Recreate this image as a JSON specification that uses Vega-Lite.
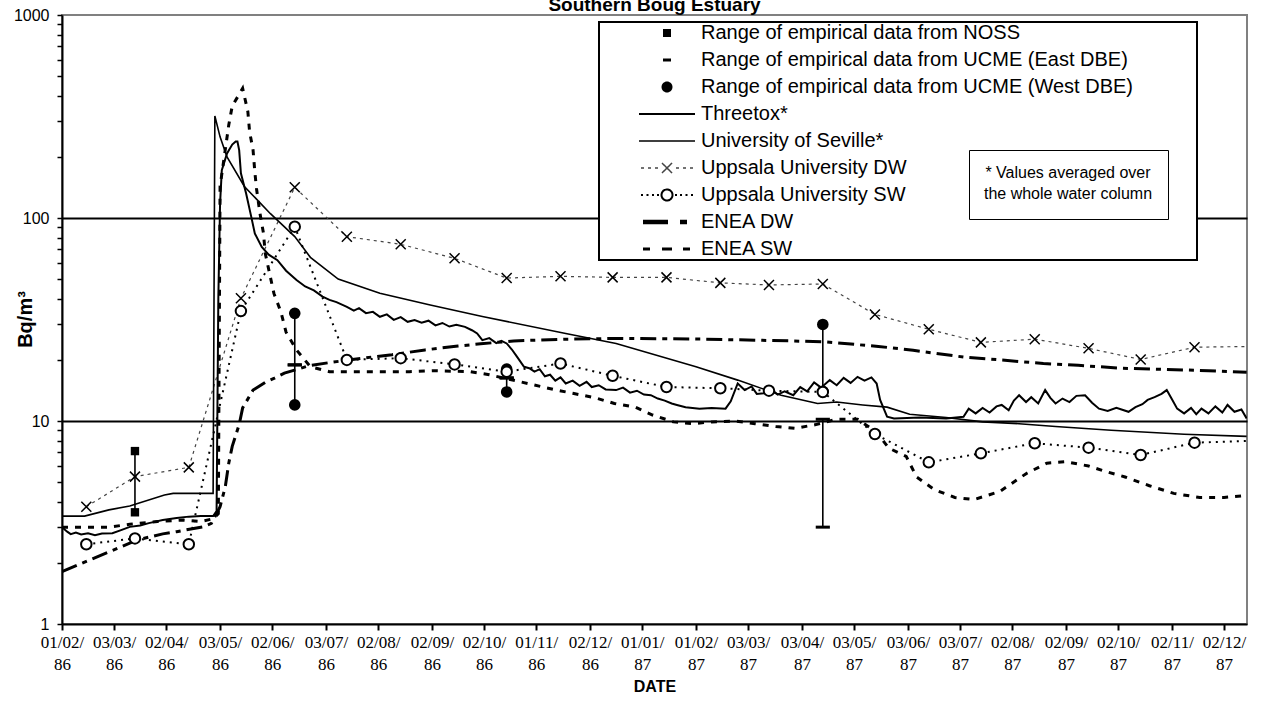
{
  "$schema": "https://vega.github.io/schema/vega-lite/v6.json",
  "width": 1185,
  "height": 609,
  "autosize": {"type": "none"},
  "padding": {"left": 62, "top": 15, "right": 16, "bottom": 87},
  "background": "white",
  "title": {"text": "Southern Boug Estuary", "font": "Liberation Sans", "fontSize": 19, "fontWeight": "bold", "color": "black", "anchor": "middle", "frame": "group", "offset": -23, "baseline": "alphabetic"},
  "config": {"view": {"stroke": "#808080", "strokeWidth": 2}, "font": "Liberation Sans"},
  "datasets": {
    "lines": [
      {"series": "ENEA SW", "date": "1986-02-01", "value": 3.0},
      {"series": "ENEA SW", "date": "1986-02-28", "value": 3.0},
      {"series": "ENEA SW", "date": "1986-03-12", "value": 3.1},
      {"series": "ENEA SW", "date": "1986-03-28", "value": 3.2},
      {"series": "ENEA SW", "date": "1986-04-12", "value": 3.25},
      {"series": "ENEA SW", "date": "1986-04-22", "value": 3.2},
      {"series": "ENEA SW", "date": "1986-04-29", "value": 3.3},
      {"series": "ENEA SW", "date": "1986-05-02", "value": 3.5},
      {"series": "ENEA SW", "date": "1986-05-03", "value": 143},
      {"series": "ENEA SW", "date": "1986-05-08", "value": 287},
      {"series": "ENEA SW", "date": "1986-05-10", "value": 356},
      {"series": "ENEA SW", "date": "1986-05-16", "value": 435},
      {"series": "ENEA SW", "date": "1986-05-19", "value": 334},
      {"series": "ENEA SW", "date": "1986-05-20", "value": 266},
      {"series": "ENEA SW", "date": "1986-05-22", "value": 216},
      {"series": "ENEA SW", "date": "1986-05-23", "value": 169},
      {"series": "ENEA SW", "date": "1986-05-24", "value": 139},
      {"series": "ENEA SW", "date": "1986-05-26", "value": 105},
      {"series": "ENEA SW", "date": "1986-05-28", "value": 84},
      {"series": "ENEA SW", "date": "1986-05-29", "value": 67},
      {"series": "ENEA SW", "date": "1986-06-03", "value": 42.5},
      {"series": "ENEA SW", "date": "1986-06-07", "value": 34.5},
      {"series": "ENEA SW", "date": "1986-06-10", "value": 27.4},
      {"series": "ENEA SW", "date": "1986-06-16", "value": 22.4},
      {"series": "ENEA SW", "date": "1986-06-24", "value": 18.5},
      {"series": "ENEA SW", "date": "1986-07-05", "value": 17.5},
      {"series": "ENEA SW", "date": "1986-08-20", "value": 17.5},
      {"series": "ENEA SW", "date": "1986-09-02", "value": 17.7},
      {"series": "ENEA SW", "date": "1986-09-24", "value": 17.5},
      {"series": "ENEA SW", "date": "1986-10-05", "value": 16.9},
      {"series": "ENEA SW", "date": "1986-10-30", "value": 15.1},
      {"series": "ENEA SW", "date": "1986-11-11", "value": 14.3},
      {"series": "ENEA SW", "date": "1986-11-22", "value": 13.7},
      {"series": "ENEA SW", "date": "1986-12-05", "value": 13.0},
      {"series": "ENEA SW", "date": "1986-12-16", "value": 12.2},
      {"series": "ENEA SW", "date": "1986-12-28", "value": 11.7},
      {"series": "ENEA SW", "date": "1987-01-07", "value": 10.7},
      {"series": "ENEA SW", "date": "1987-01-19", "value": 9.9},
      {"series": "ENEA SW", "date": "1987-01-30", "value": 9.7},
      {"series": "ENEA SW", "date": "1987-02-10", "value": 9.9},
      {"series": "ENEA SW", "date": "1987-02-23", "value": 10.0},
      {"series": "ENEA SW", "date": "1987-03-07", "value": 9.7},
      {"series": "ENEA SW", "date": "1987-03-19", "value": 9.4},
      {"series": "ENEA SW", "date": "1987-03-30", "value": 9.2},
      {"series": "ENEA SW", "date": "1987-04-11", "value": 9.6},
      {"series": "ENEA SW", "date": "1987-04-23", "value": 10.2},
      {"series": "ENEA SW", "date": "1987-05-05", "value": 10.2},
      {"series": "ENEA SW", "date": "1987-05-16", "value": 8.8},
      {"series": "ENEA SW", "date": "1987-05-23", "value": 7.35},
      {"series": "ENEA SW", "date": "1987-06-02", "value": 6.7},
      {"series": "ENEA SW", "date": "1987-06-08", "value": 5.3},
      {"series": "ENEA SW", "date": "1987-06-18", "value": 4.6},
      {"series": "ENEA SW", "date": "1987-06-30", "value": 4.2},
      {"series": "ENEA SW", "date": "1987-07-11", "value": 4.1},
      {"series": "ENEA SW", "date": "1987-07-26", "value": 4.5},
      {"series": "ENEA SW", "date": "1987-08-10", "value": 5.5},
      {"series": "ENEA SW", "date": "1987-08-22", "value": 6.2},
      {"series": "ENEA SW", "date": "1987-09-02", "value": 6.3},
      {"series": "ENEA SW", "date": "1987-09-15", "value": 6.0},
      {"series": "ENEA SW", "date": "1987-09-26", "value": 5.6},
      {"series": "ENEA SW", "date": "1987-10-06", "value": 5.3},
      {"series": "ENEA SW", "date": "1987-10-20", "value": 4.8},
      {"series": "ENEA SW", "date": "1987-11-03", "value": 4.4},
      {"series": "ENEA SW", "date": "1987-11-18", "value": 4.2},
      {"series": "ENEA SW", "date": "1987-12-02", "value": 4.2},
      {"series": "ENEA SW", "date": "1987-12-15", "value": 4.3},

      {"series": "ENEA DW", "date": "1986-02-01", "value": 1.81},
      {"series": "ENEA DW", "date": "1986-02-13", "value": 2.0},
      {"series": "ENEA DW", "date": "1986-03-05", "value": 2.36},
      {"series": "ENEA DW", "date": "1986-03-16", "value": 2.59},
      {"series": "ENEA DW", "date": "1986-03-31", "value": 2.78},
      {"series": "ENEA DW", "date": "1986-04-08", "value": 2.85},
      {"series": "ENEA DW", "date": "1986-04-23", "value": 3.01},
      {"series": "ENEA DW", "date": "1986-04-28", "value": 3.13},
      {"series": "ENEA DW", "date": "1986-05-03", "value": 3.78},
      {"series": "ENEA DW", "date": "1986-05-06", "value": 4.74},
      {"series": "ENEA DW", "date": "1986-05-08", "value": 6.2},
      {"series": "ENEA DW", "date": "1986-05-10", "value": 7.5},
      {"series": "ENEA DW", "date": "1986-05-14", "value": 9.6},
      {"series": "ENEA DW", "date": "1986-05-16", "value": 11.6},
      {"series": "ENEA DW", "date": "1986-05-22", "value": 14.2},
      {"series": "ENEA DW", "date": "1986-05-29", "value": 15.5},
      {"series": "ENEA DW", "date": "1986-06-03", "value": 16.2},
      {"series": "ENEA DW", "date": "1986-06-09", "value": 17.2},
      {"series": "ENEA DW", "date": "1986-06-23", "value": 18.7},
      {"series": "ENEA DW", "date": "1986-07-05", "value": 19.4},
      {"series": "ENEA DW", "date": "1986-07-26", "value": 20.5},
      {"series": "ENEA DW", "date": "1986-08-10", "value": 21.2},
      {"series": "ENEA DW", "date": "1986-08-29", "value": 22.4},
      {"series": "ENEA DW", "date": "1986-09-17", "value": 23.4},
      {"series": "ENEA DW", "date": "1986-09-30", "value": 24.0},
      {"series": "ENEA DW", "date": "1986-10-19", "value": 24.8},
      {"series": "ENEA DW", "date": "1986-11-18", "value": 25.3},
      {"series": "ENEA DW", "date": "1986-12-18", "value": 25.5},
      {"series": "ENEA DW", "date": "1987-01-17", "value": 25.4},
      {"series": "ENEA DW", "date": "1987-02-06", "value": 25.3},
      {"series": "ENEA DW", "date": "1987-02-26", "value": 25.1},
      {"series": "ENEA DW", "date": "1987-03-28", "value": 24.8},
      {"series": "ENEA DW", "date": "1987-04-17", "value": 24.5},
      {"series": "ENEA DW", "date": "1987-05-17", "value": 23.3},
      {"series": "ENEA DW", "date": "1987-06-06", "value": 22.3},
      {"series": "ENEA DW", "date": "1987-07-06", "value": 20.6},
      {"series": "ENEA DW", "date": "1987-07-26", "value": 20.0},
      {"series": "ENEA DW", "date": "1987-08-20", "value": 19.2},
      {"series": "ENEA DW", "date": "1987-09-09", "value": 18.8},
      {"series": "ENEA DW", "date": "1987-10-04", "value": 18.2},
      {"series": "ENEA DW", "date": "1987-10-24", "value": 18.0},
      {"series": "ENEA DW", "date": "1987-11-23", "value": 17.7},
      {"series": "ENEA DW", "date": "1987-12-15", "value": 17.4},

      {"series": "Uppsala University DW", "date": "1986-02-15", "value": 3.78},
      {"series": "Uppsala University DW", "date": "1986-03-15", "value": 5.32},
      {"series": "Uppsala University DW", "date": "1986-04-15", "value": 5.91},
      {"series": "Uppsala University DW", "date": "1986-05-15", "value": 40.2},
      {"series": "Uppsala University DW", "date": "1986-06-15", "value": 141.6},
      {"series": "Uppsala University DW", "date": "1986-07-15", "value": 80.9},
      {"series": "Uppsala University DW", "date": "1986-08-15", "value": 74.2},
      {"series": "Uppsala University DW", "date": "1986-09-15", "value": 63.3},
      {"series": "Uppsala University DW", "date": "1986-10-15", "value": 50.6},
      {"series": "Uppsala University DW", "date": "1986-11-15", "value": 51.6},
      {"series": "Uppsala University DW", "date": "1986-12-15", "value": 51.0},
      {"series": "Uppsala University DW", "date": "1987-01-15", "value": 51.0},
      {"series": "Uppsala University DW", "date": "1987-02-15", "value": 47.9},
      {"series": "Uppsala University DW", "date": "1987-03-15", "value": 46.8},
      {"series": "Uppsala University DW", "date": "1987-04-15", "value": 47.3},
      {"series": "Uppsala University DW", "date": "1987-05-15", "value": 33.5},
      {"series": "Uppsala University DW", "date": "1987-06-15", "value": 28.3},
      {"series": "Uppsala University DW", "date": "1987-07-15", "value": 24.4},
      {"series": "Uppsala University DW", "date": "1987-08-15", "value": 25.3},
      {"series": "Uppsala University DW", "date": "1987-09-15", "value": 22.8},
      {"series": "Uppsala University DW", "date": "1987-10-15", "value": 20.1},
      {"series": "Uppsala University DW", "date": "1987-11-15", "value": 23.1},
      {"series": "Uppsala University DW", "date": "1987-12-19", "value": 23.3},

      {"series": "Uppsala University SW", "date": "1986-02-15", "value": 2.47},
      {"series": "Uppsala University SW", "date": "1986-03-15", "value": 2.64},
      {"series": "Uppsala University SW", "date": "1986-04-15", "value": 2.47},
      {"series": "Uppsala University SW", "date": "1986-05-15", "value": 34.8},
      {"series": "Uppsala University SW", "date": "1986-06-15", "value": 90.6},
      {"series": "Uppsala University SW", "date": "1986-07-15", "value": 20.0},
      {"series": "Uppsala University SW", "date": "1986-08-15", "value": 20.4},
      {"series": "Uppsala University SW", "date": "1986-09-15", "value": 19.0},
      {"series": "Uppsala University SW", "date": "1986-10-15", "value": 17.5},
      {"series": "Uppsala University SW", "date": "1986-11-15", "value": 19.2},
      {"series": "Uppsala University SW", "date": "1986-12-15", "value": 16.7},
      {"series": "Uppsala University SW", "date": "1987-01-15", "value": 14.7},
      {"series": "Uppsala University SW", "date": "1987-02-15", "value": 14.5},
      {"series": "Uppsala University SW", "date": "1987-03-15", "value": 14.1},
      {"series": "Uppsala University SW", "date": "1987-04-15", "value": 13.9},
      {"series": "Uppsala University SW", "date": "1987-05-15", "value": 8.63},
      {"series": "Uppsala University SW", "date": "1987-06-15", "value": 6.26},
      {"series": "Uppsala University SW", "date": "1987-07-15", "value": 6.93},
      {"series": "Uppsala University SW", "date": "1987-08-15", "value": 7.77},
      {"series": "Uppsala University SW", "date": "1987-09-15", "value": 7.39},
      {"series": "Uppsala University SW", "date": "1987-10-15", "value": 6.8},
      {"series": "Uppsala University SW", "date": "1987-11-15", "value": 7.82},
      {"series": "Uppsala University SW", "date": "1987-12-19", "value": 8.0},

      {"series": "University of Seville*", "date": "1986-02-01", "value": 3.4},
      {"series": "University of Seville*", "date": "1986-02-14", "value": 3.4},
      {"series": "University of Seville*", "date": "1986-02-28", "value": 3.65},
      {"series": "University of Seville*", "date": "1986-03-12", "value": 3.81},
      {"series": "University of Seville*", "date": "1986-04-01", "value": 4.32},
      {"series": "University of Seville*", "date": "1986-04-06", "value": 4.4},
      {"series": "University of Seville*", "date": "1986-04-29", "value": 4.4},
      {"series": "University of Seville*", "date": "1986-04-30", "value": 318},
      {"series": "University of Seville*", "date": "1986-05-03", "value": 251},
      {"series": "University of Seville*", "date": "1986-05-07", "value": 200},
      {"series": "University of Seville*", "date": "1986-05-17", "value": 143},
      {"series": "University of Seville*", "date": "1986-06-01", "value": 105},
      {"series": "University of Seville*", "date": "1986-06-15", "value": 81},
      {"series": "University of Seville*", "date": "1986-06-24", "value": 64},
      {"series": "University of Seville*", "date": "1986-07-10", "value": 50},
      {"series": "University of Seville*", "date": "1986-08-03", "value": 42.6},
      {"series": "University of Seville*", "date": "1986-09-01", "value": 37.3},
      {"series": "University of Seville*", "date": "1986-10-01", "value": 32.7},
      {"series": "University of Seville*", "date": "1986-11-18", "value": 27.0},
      {"series": "University of Seville*", "date": "1986-12-17", "value": 24.1},
      {"series": "University of Seville*", "date": "1987-02-01", "value": 18.5},
      {"series": "University of Seville*", "date": "1987-02-25", "value": 15.9},
      {"series": "University of Seville*", "date": "1987-03-22", "value": 13.4},
      {"series": "University of Seville*", "date": "1987-04-12", "value": 12.2},
      {"series": "University of Seville*", "date": "1987-04-23", "value": 12.4},
      {"series": "University of Seville*", "date": "1987-05-08", "value": 12.0},
      {"series": "University of Seville*", "date": "1987-05-22", "value": 11.7},
      {"series": "University of Seville*", "date": "1987-06-04", "value": 10.8},
      {"series": "University of Seville*", "date": "1987-06-25", "value": 10.4},
      {"series": "University of Seville*", "date": "1987-07-16", "value": 9.9},
      {"series": "University of Seville*", "date": "1987-08-06", "value": 9.7},
      {"series": "University of Seville*", "date": "1987-08-27", "value": 9.4},
      {"series": "University of Seville*", "date": "1987-09-28", "value": 9.0},
      {"series": "University of Seville*", "date": "1987-11-09", "value": 8.6},
      {"series": "University of Seville*", "date": "1987-12-15", "value": 8.4},

      {"series": "Threetox*", "date": "1986-02-01", "value": 3.0},
      {"series": "Threetox*", "date": "1986-02-04", "value": 2.85},
      {"series": "Threetox*", "date": "1986-02-06", "value": 2.77},
      {"series": "Threetox*", "date": "1986-02-09", "value": 2.82},
      {"series": "Threetox*", "date": "1986-02-12", "value": 2.76},
      {"series": "Threetox*", "date": "1986-02-16", "value": 2.8},
      {"series": "Threetox*", "date": "1986-02-20", "value": 2.74},
      {"series": "Threetox*", "date": "1986-02-24", "value": 2.79},
      {"series": "Threetox*", "date": "1986-03-02", "value": 2.8},
      {"series": "Threetox*", "date": "1986-03-07", "value": 2.9},
      {"series": "Threetox*", "date": "1986-03-12", "value": 3.01},
      {"series": "Threetox*", "date": "1986-03-18", "value": 3.06},
      {"series": "Threetox*", "date": "1986-03-23", "value": 3.14},
      {"series": "Threetox*", "date": "1986-03-31", "value": 3.25},
      {"series": "Threetox*", "date": "1986-04-08", "value": 3.33},
      {"series": "Threetox*", "date": "1986-04-15", "value": 3.38},
      {"series": "Threetox*", "date": "1986-04-22", "value": 3.4},
      {"series": "Threetox*", "date": "1986-04-29", "value": 3.4},
      {"series": "Threetox*", "date": "1986-05-01", "value": 3.6},
      {"series": "Threetox*", "date": "1986-05-02", "value": 40},
      {"series": "Threetox*", "date": "1986-05-03", "value": 118},
      {"series": "Threetox*", "date": "1986-05-04", "value": 172},
      {"series": "Threetox*", "date": "1986-05-07", "value": 208},
      {"series": "Threetox*", "date": "1986-05-10", "value": 230},
      {"series": "Threetox*", "date": "1986-05-12", "value": 238},
      {"series": "Threetox*", "date": "1986-05-13", "value": 238},
      {"series": "Threetox*", "date": "1986-05-14", "value": 216},
      {"series": "Threetox*", "date": "1986-05-15", "value": 166},
      {"series": "Threetox*", "date": "1986-05-18", "value": 132},
      {"series": "Threetox*", "date": "1986-05-21", "value": 101},
      {"series": "Threetox*", "date": "1986-05-23", "value": 84},
      {"series": "Threetox*", "date": "1986-05-27", "value": 72},
      {"series": "Threetox*", "date": "1986-05-31", "value": 66},
      {"series": "Threetox*", "date": "1986-06-05", "value": 62},
      {"series": "Threetox*", "date": "1986-06-10", "value": 55},
      {"series": "Threetox*", "date": "1986-06-16", "value": 49.5},
      {"series": "Threetox*", "date": "1986-06-21", "value": 46},
      {"series": "Threetox*", "date": "1986-06-26", "value": 44},
      {"series": "Threetox*", "date": "1986-07-01", "value": 41},
      {"series": "Threetox*", "date": "1986-07-05", "value": 39.5},
      {"series": "Threetox*", "date": "1986-07-09", "value": 38.5},
      {"series": "Threetox*", "date": "1986-07-15", "value": 36.5},
      {"series": "Threetox*", "date": "1986-07-19", "value": 35},
      {"series": "Threetox*", "date": "1986-07-22", "value": 36},
      {"series": "Threetox*", "date": "1986-07-26", "value": 34},
      {"series": "Threetox*", "date": "1986-07-30", "value": 34.5},
      {"series": "Threetox*", "date": "1986-08-03", "value": 32.6},
      {"series": "Threetox*", "date": "1986-08-07", "value": 33.5},
      {"series": "Threetox*", "date": "1986-08-11", "value": 31.5},
      {"series": "Threetox*", "date": "1986-08-15", "value": 32.5},
      {"series": "Threetox*", "date": "1986-08-19", "value": 30.8},
      {"series": "Threetox*", "date": "1986-08-23", "value": 31.4},
      {"series": "Threetox*", "date": "1986-08-27", "value": 30.5},
      {"series": "Threetox*", "date": "1986-08-31", "value": 31.2},
      {"series": "Threetox*", "date": "1986-09-04", "value": 29.6},
      {"series": "Threetox*", "date": "1986-09-08", "value": 30.4},
      {"series": "Threetox*", "date": "1986-09-12", "value": 29.2},
      {"series": "Threetox*", "date": "1986-09-16", "value": 29.8},
      {"series": "Threetox*", "date": "1986-09-21", "value": 29.1},
      {"series": "Threetox*", "date": "1986-09-25", "value": 28.0},
      {"series": "Threetox*", "date": "1986-09-28", "value": 27.0},
      {"series": "Threetox*", "date": "1986-10-01", "value": 25.0},
      {"series": "Threetox*", "date": "1986-10-05", "value": 25.6},
      {"series": "Threetox*", "date": "1986-10-09", "value": 24.2},
      {"series": "Threetox*", "date": "1986-10-12", "value": 24.8},
      {"series": "Threetox*", "date": "1986-10-15", "value": 24.1},
      {"series": "Threetox*", "date": "1986-10-18", "value": 22.5},
      {"series": "Threetox*", "date": "1986-10-21", "value": 20.7},
      {"series": "Threetox*", "date": "1986-10-25", "value": 18.5},
      {"series": "Threetox*", "date": "1986-10-28", "value": 18.2},
      {"series": "Threetox*", "date": "1986-10-31", "value": 17.5},
      {"series": "Threetox*", "date": "1986-11-03", "value": 18.0},
      {"series": "Threetox*", "date": "1986-11-06", "value": 16.6},
      {"series": "Threetox*", "date": "1986-11-09", "value": 16.9},
      {"series": "Threetox*", "date": "1986-11-12", "value": 15.8},
      {"series": "Threetox*", "date": "1986-11-15", "value": 16.4},
      {"series": "Threetox*", "date": "1986-11-18", "value": 15.3},
      {"series": "Threetox*", "date": "1986-11-22", "value": 15.8},
      {"series": "Threetox*", "date": "1986-11-26", "value": 14.9},
      {"series": "Threetox*", "date": "1986-11-30", "value": 15.6},
      {"series": "Threetox*", "date": "1986-12-03", "value": 14.7},
      {"series": "Threetox*", "date": "1986-12-07", "value": 15.0},
      {"series": "Threetox*", "date": "1986-12-11", "value": 14.3},
      {"series": "Threetox*", "date": "1986-12-17", "value": 14.2},
      {"series": "Threetox*", "date": "1986-12-21", "value": 14.6},
      {"series": "Threetox*", "date": "1986-12-25", "value": 13.8},
      {"series": "Threetox*", "date": "1986-12-29", "value": 14.1},
      {"series": "Threetox*", "date": "1987-01-02", "value": 13.5},
      {"series": "Threetox*", "date": "1987-01-06", "value": 13.4},
      {"series": "Threetox*", "date": "1987-01-10", "value": 12.9},
      {"series": "Threetox*", "date": "1987-01-14", "value": 12.6},
      {"series": "Threetox*", "date": "1987-01-18", "value": 12.2},
      {"series": "Threetox*", "date": "1987-01-21", "value": 12.0},
      {"series": "Threetox*", "date": "1987-01-26", "value": 11.7},
      {"series": "Threetox*", "date": "1987-02-03", "value": 11.5},
      {"series": "Threetox*", "date": "1987-02-10", "value": 11.6},
      {"series": "Threetox*", "date": "1987-02-18", "value": 11.5},
      {"series": "Threetox*", "date": "1987-02-21", "value": 12.5},
      {"series": "Threetox*", "date": "1987-02-25", "value": 15.3},
      {"series": "Threetox*", "date": "1987-03-01", "value": 14.2},
      {"series": "Threetox*", "date": "1987-03-05", "value": 14.8},
      {"series": "Threetox*", "date": "1987-03-08", "value": 13.6},
      {"series": "Threetox*", "date": "1987-03-12", "value": 13.7},
      {"series": "Threetox*", "date": "1987-03-16", "value": 14.4},
      {"series": "Threetox*", "date": "1987-03-20", "value": 13.5},
      {"series": "Threetox*", "date": "1987-03-24", "value": 14.0},
      {"series": "Threetox*", "date": "1987-03-29", "value": 13.4},
      {"series": "Threetox*", "date": "1987-04-02", "value": 14.7},
      {"series": "Threetox*", "date": "1987-04-06", "value": 14.0},
      {"series": "Threetox*", "date": "1987-04-10", "value": 15.5},
      {"series": "Threetox*", "date": "1987-04-14", "value": 14.6},
      {"series": "Threetox*", "date": "1987-04-19", "value": 15.9},
      {"series": "Threetox*", "date": "1987-04-23", "value": 15.0},
      {"series": "Threetox*", "date": "1987-04-27", "value": 16.3},
      {"series": "Threetox*", "date": "1987-05-01", "value": 15.4},
      {"series": "Threetox*", "date": "1987-05-05", "value": 16.5},
      {"series": "Threetox*", "date": "1987-05-09", "value": 15.8},
      {"series": "Threetox*", "date": "1987-05-13", "value": 16.4},
      {"series": "Threetox*", "date": "1987-05-16", "value": 15.3},
      {"series": "Threetox*", "date": "1987-05-18", "value": 12.7},
      {"series": "Threetox*", "date": "1987-05-22", "value": 10.5},
      {"series": "Threetox*", "date": "1987-05-26", "value": 10.3},
      {"series": "Threetox*", "date": "1987-06-10", "value": 10.4},
      {"series": "Threetox*", "date": "1987-06-25", "value": 10.3},
      {"series": "Threetox*", "date": "1987-07-05", "value": 10.5},
      {"series": "Threetox*", "date": "1987-07-08", "value": 11.5},
      {"series": "Threetox*", "date": "1987-07-12", "value": 10.9},
      {"series": "Threetox*", "date": "1987-07-16", "value": 11.6},
      {"series": "Threetox*", "date": "1987-07-20", "value": 11.0},
      {"series": "Threetox*", "date": "1987-07-24", "value": 11.8},
      {"series": "Threetox*", "date": "1987-07-27", "value": 12.0},
      {"series": "Threetox*", "date": "1987-07-31", "value": 11.3},
      {"series": "Threetox*", "date": "1987-08-03", "value": 12.6},
      {"series": "Threetox*", "date": "1987-08-06", "value": 13.4},
      {"series": "Threetox*", "date": "1987-08-10", "value": 12.4},
      {"series": "Threetox*", "date": "1987-08-13", "value": 13.1},
      {"series": "Threetox*", "date": "1987-08-17", "value": 12.2},
      {"series": "Threetox*", "date": "1987-08-21", "value": 14.2},
      {"series": "Threetox*", "date": "1987-08-24", "value": 13.0},
      {"series": "Threetox*", "date": "1987-08-27", "value": 12.2},
      {"series": "Threetox*", "date": "1987-08-31", "value": 12.9},
      {"series": "Threetox*", "date": "1987-09-04", "value": 12.4},
      {"series": "Threetox*", "date": "1987-09-08", "value": 13.3},
      {"series": "Threetox*", "date": "1987-09-13", "value": 13.4},
      {"series": "Threetox*", "date": "1987-09-17", "value": 12.3},
      {"series": "Threetox*", "date": "1987-09-21", "value": 11.5},
      {"series": "Threetox*", "date": "1987-09-26", "value": 11.2},
      {"series": "Threetox*", "date": "1987-10-01", "value": 11.6},
      {"series": "Threetox*", "date": "1987-10-08", "value": 11.1},
      {"series": "Threetox*", "date": "1987-10-12", "value": 11.7},
      {"series": "Threetox*", "date": "1987-10-16", "value": 12.1},
      {"series": "Threetox*", "date": "1987-10-19", "value": 12.7},
      {"series": "Threetox*", "date": "1987-10-23", "value": 13.1},
      {"series": "Threetox*", "date": "1987-10-27", "value": 13.6},
      {"series": "Threetox*", "date": "1987-10-30", "value": 14.2},
      {"series": "Threetox*", "date": "1987-11-02", "value": 12.8},
      {"series": "Threetox*", "date": "1987-11-05", "value": 11.5},
      {"series": "Threetox*", "date": "1987-11-09", "value": 10.9},
      {"series": "Threetox*", "date": "1987-11-13", "value": 11.6},
      {"series": "Threetox*", "date": "1987-11-16", "value": 10.8},
      {"series": "Threetox*", "date": "1987-11-19", "value": 11.5},
      {"series": "Threetox*", "date": "1987-11-23", "value": 10.9},
      {"series": "Threetox*", "date": "1987-11-27", "value": 11.8},
      {"series": "Threetox*", "date": "1987-12-01", "value": 11.0},
      {"series": "Threetox*", "date": "1987-12-04", "value": 12.0},
      {"series": "Threetox*", "date": "1987-12-08", "value": 11.1},
      {"series": "Threetox*", "date": "1987-12-12", "value": 11.4},
      {"series": "Threetox*", "date": "1987-12-15", "value": 10.3}
    ],
    "ranges": [
      {"source": "NOSS", "date": "1986-03-15", "low": 3.55, "high": 7.11},
      {"source": "UCME East", "date": "1986-06-15", "low": 18.9, "high": 18.9},
      {"source": "UCME East", "date": "1986-10-15", "low": 16.3, "high": 16.3},
      {"source": "UCME East", "date": "1987-04-15", "low": 3.0, "high": 10.2},
      {"source": "UCME West", "date": "1986-06-15", "low": 12.0, "high": 33.9},
      {"source": "UCME West", "date": "1986-10-15", "low": 13.9, "high": 18.0},
      {"source": "UCME West", "date": "1987-04-15", "low": 14.0, "high": 29.9}
    ]
  },
  "data": {"name": "lines"},
  "encoding": {
    "x": {
      "field": "date",
      "type": "temporal",
      "title": "DATE",
      "scale": {"type": "utc", "domain": [{"year": 1986, "month": 2, "date": 1, "utc": true}, {"year": 1987, "month": 12, "date": 15, "hours": 5, "utc": true}]},
      "axis": {
        "values": [
          {"year": 1986, "month": 2, "date": 1, "utc": true},
          {"year": 1986, "month": 3, "date": 3, "utc": true},
          {"year": 1986, "month": 4, "date": 2, "utc": true},
          {"year": 1986, "month": 5, "date": 3, "utc": true},
          {"year": 1986, "month": 6, "date": 2, "utc": true},
          {"year": 1986, "month": 7, "date": 3, "utc": true},
          {"year": 1986, "month": 8, "date": 2, "utc": true},
          {"year": 1986, "month": 9, "date": 2, "utc": true},
          {"year": 1986, "month": 10, "date": 2, "utc": true},
          {"year": 1986, "month": 11, "date": 1, "utc": true},
          {"year": 1986, "month": 12, "date": 2, "utc": true},
          {"year": 1987, "month": 1, "date": 1, "utc": true},
          {"year": 1987, "month": 2, "date": 1, "utc": true},
          {"year": 1987, "month": 3, "date": 3, "utc": true},
          {"year": 1987, "month": 4, "date": 3, "utc": true},
          {"year": 1987, "month": 5, "date": 3, "utc": true},
          {"year": 1987, "month": 6, "date": 3, "utc": true},
          {"year": 1987, "month": 7, "date": 3, "utc": true},
          {"year": 1987, "month": 8, "date": 2, "utc": true},
          {"year": 1987, "month": 9, "date": 2, "utc": true},
          {"year": 1987, "month": 10, "date": 2, "utc": true},
          {"year": 1987, "month": 11, "date": 2, "utc": true},
          {"year": 1987, "month": 12, "date": 2, "utc": true}
        ],
        "labelExpr": "[utcFormat(datum.value, '%d/%m/'), utcFormat(datum.value, '%y')]",
        "labelFont": "Liberation Serif",
        "labelFontSize": 17,
        "labelLineHeight": 22,
        "labelColor": "black",
        "labelOverlap": false,
        "labelFlush": false,
        "labelPadding": 4,
        "tickSize": 6,
        "tickColor": "black",
        "tickWidth": 2,
        "domainColor": "black",
        "domainWidth": 2,
        "grid": false,
        "titleFont": "Liberation Sans",
        "titleFontSize": 16,
        "titleFontWeight": "bold",
        "titleColor": "black",
        "titlePadding": 6
      }
    }
  },
  "layer": [
    {
      "transform": [{"filter": "datum.series === 'ENEA SW'"}],
      "mark": {"type": "line", "strokeWidth": 3, "strokeDash": [6, 7], "clip": true},
      "encoding": {
        "y": {
          "field": "value",
          "type": "quantitative",
          "title": "Bq/m³",
          "scale": {"type": "log", "domain": [1, 1000], "nice": false},
          "axis": {
            "values": [1, 2, 3, 4, 5, 6, 7, 8, 9, 10, 20, 30, 40, 50, 60, 70, 80, 90, 100, 200, 300, 400, 500, 600, 700, 800, 900, 1000],
            "format": "d",
            "labelExpr": "indexof([1, 10, 100, 1000], datum.value) >= 0 ? datum.label : ''",
            "labelFont": "Liberation Sans",
            "labelFontSize": 16,
            "labelColor": "black",
            "labelPadding": 8,
            "labelOverlap": false,
            "labelFlush": false,
            "tickSize": 5,
            "tickColor": "black",
            "tickWidth": 1.5,
            "domainColor": "black",
            "domainWidth": 2,
            "grid": true,
            "gridColor": "black",
            "gridWidth": 2,
            "gridOpacity": {"condition": {"test": "datum.value == 10 || datum.value == 100", "value": 1}, "value": 0},
            "titleFont": "Liberation Sans",
            "titleFontSize": 20,
            "titleFontWeight": "bold",
            "titleColor": "black",
            "titleX": -37,
            "titleY": 304,
            "titleAngle": -90,
            "titleAlign": "center",
            "titleBaseline": "middle"
          }
        },
        "color": {
          "field": "series",
          "type": "nominal",
          "scale": {
            "domain": ["Range of empirical data from NOSS", "Range of empirical data from UCME (East DBE)", "Range of empirical data from UCME (West DBE)", "Threetox*", "University of Seville*", "Uppsala University DW", "Uppsala University SW", "ENEA DW", "ENEA SW"],
            "range": ["black", "black", "black", "black", "black", "#444444", "black", "black", "black"]
          },
          "legend": {
            "orient": "none",
            "legendX": 537,
            "legendY": 7,
            "title": null,
            "padding": 1,
            "strokeColor": "black",
            "fillColor": "white",
            "symbolSize": 100,
            "symbolOffset": 0,
            "labelFont": "Liberation Sans",
            "labelFontSize": 20,
            "labelColor": "black",
            "labelLimit": 0,
            "rowPadding": 7,
            "encode": {
              "legend": {"update": {"strokeWidth": {"value": 2}}},
              "labels": {"update": {"x": {"value": 101}, "y": {"value": 10}, "baseline": {"value": "middle"}}},
              "symbols": {
                "update": {
                  "x": {"value": 0},
                  "y": {"value": 10},
                  "shape": {"signal": "['M12.6,-0.8H14.2V0.8H12.6ZM119.2,0', 'M12.6,-0.3H14.2V0.3H12.6Z', 'M12.3,0A1.1,1.1,0,1,0,14.5,0A1.1,1.1,0,1,0,12.3,0Z', 'M7.8,0H19', 'M7.8,0H19', 'M12.4,-1L14.4,1M12.4,1L14.4,-1M8.2,0H8.8M9.6,0H10.2M11,0H11.6M15.2,0H15.8M16.6,0H17.2M18,0H18.6', 'M12.3,0A1.1,1.1,0,1,0,14.5,0A1.1,1.1,0,1,0,12.3,0M8.2,0H8.6M9.3,0H9.7M10.4,0H10.8M11.4,0H11.8M15,0H15.4M16,0H16.4M17.1,0H17.5M18.2,0H18.6', 'M8.6,-0.45H13.6V0.45H8.6ZM16,-0.45H17.4V0.45H16Z', 'M8.6,-0.3H10V0.3H8.6ZM12.4,-0.3H14.4V0.3H12.4ZM16.6,-0.3H18V0.3H16.6Z'][datum.index]"},
                  "fill": {"signal": "['black', 'black', 'black', 'transparent', 'transparent', 'transparent', 'white', 'black', 'black'][datum.index]"},
                  "stroke": {"signal": "['transparent', 'transparent', 'transparent', 'black', 'black', '#333333', 'black', 'transparent', 'transparent'][datum.index]"},
                  "strokeWidth": {"signal": "[0, 0, 0, 2, 1.5, 1.5, 2, 0, 0][datum.index]"},
                  "strokeDash": {"value": [1, 0]},
                  "size": {"value": 100},
                  "opacity": {"value": 1}
                }
              }
            }
          }
        }
      }
    },
    {
      "transform": [{"filter": "datum.series === 'ENEA DW'"}],
      "mark": {"type": "line", "strokeWidth": 3, "strokeDash": [16, 6, 5, 6], "color": "black", "clip": true},
      "encoding": {"y": {"field": "value", "type": "quantitative", "title": "Bq/m³"}}
    },
    {
      "transform": [{"filter": "datum.series === 'Uppsala University DW'"}],
      "mark": {"type": "line", "strokeWidth": 1.2, "strokeDash": [3, 4], "color": "#444444", "clip": true},
      "encoding": {"y": {"field": "value", "type": "quantitative", "title": "Bq/m³"}}
    },
    {
      "transform": [{"filter": "datum.series === 'Uppsala University SW'"}],
      "mark": {"type": "line", "strokeWidth": 2, "strokeDash": [2, 5], "color": "black", "clip": true},
      "encoding": {"y": {"field": "value", "type": "quantitative", "title": "Bq/m³"}}
    },
    {
      "transform": [{"filter": "datum.series === 'University of Seville*'"}],
      "mark": {"type": "line", "strokeWidth": 1.6, "color": "black", "clip": true},
      "encoding": {"y": {"field": "value", "type": "quantitative", "title": "Bq/m³"}}
    },
    {
      "transform": [{"filter": "datum.series === 'Threetox*'"}],
      "mark": {"type": "line", "strokeWidth": 2, "color": "black", "clip": true},
      "encoding": {"y": {"field": "value", "type": "quantitative", "title": "Bq/m³"}}
    },
    {
      "data": {"name": "ranges"},
      "mark": {"type": "rule", "strokeWidth": 1.6, "color": "black"},
      "encoding": {
        "y": {"field": "low", "type": "quantitative", "title": "Bq/m³"},
        "y2": {"field": "high"}
      }
    },
    {
      "data": {"name": "ranges"},
      "transform": [{"filter": "datum.source === 'NOSS'"}, {"fold": ["low", "high"], "as": ["end", "value"]}],
      "mark": {"type": "point", "filled": true, "size": 70, "color": "black", "opacity": 1},
      "encoding": {
        "y": {"field": "value", "type": "quantitative", "title": "Bq/m³"},
        "shape": {
          "field": "source",
          "type": "nominal",
          "scale": {"range": ["square"]},
          "legend": {
            "orient": "none",
            "legendX": 907,
            "legendY": 135,
            "title": ["* Values averaged over", "the whole water column"],
            "titleFont": "Liberation Sans",
            "titleFontSize": 16,
            "titleFontWeight": "normal",
            "titleColor": "black",
            "titleLineHeight": 21,
            "titleAlign": "center",
            "titleAnchor": "middle",
            "titlePadding": 0,
            "titleLimit": 0,
            "padding": 15,
            "strokeColor": "black",
            "fillColor": "white",
            "symbolOpacity": 0,
            "symbolSize": 1,
            "labelFontSize": 1,
            "labelOpacity": 0,
            "labelExpr": "''"
          }
        }
      }
    },
    {
      "data": {"name": "ranges"},
      "transform": [{"filter": "datum.source === 'UCME East'"}, {"fold": ["low", "high"], "as": ["end", "value"]}],
      "mark": {"type": "point", "shape": "stroke", "filled": false, "size": 200, "strokeWidth": 3, "color": "black", "opacity": 1},
      "encoding": {"y": {"field": "value", "type": "quantitative", "title": "Bq/m³"}}
    },
    {
      "data": {"name": "ranges"},
      "transform": [{"filter": "datum.source === 'UCME West'"}, {"fold": ["low", "high"], "as": ["end", "value"]}],
      "mark": {"type": "point", "shape": "circle", "filled": true, "size": 135, "color": "black", "opacity": 1},
      "encoding": {"y": {"field": "value", "type": "quantitative", "title": "Bq/m³"}}
    },
    {
      "transform": [{"filter": "datum.series === 'Uppsala University DW'"}],
      "mark": {"type": "point", "shape": "M-1,-1L1,1M-1,1L1,-1", "filled": false, "size": 100, "strokeWidth": 1.5, "color": "black", "opacity": 1, "clip": true},
      "encoding": {"y": {"field": "value", "type": "quantitative", "title": "Bq/m³"}}
    },
    {
      "transform": [{"filter": "datum.series === 'Uppsala University SW'"}],
      "mark": {"type": "point", "shape": "circle", "filled": true, "fill": "white", "stroke": "black", "size": 110, "strokeWidth": 2, "opacity": 1, "clip": true},
      "encoding": {"y": {"field": "value", "type": "quantitative", "title": "Bq/m³"}}
    }
  ]
}
